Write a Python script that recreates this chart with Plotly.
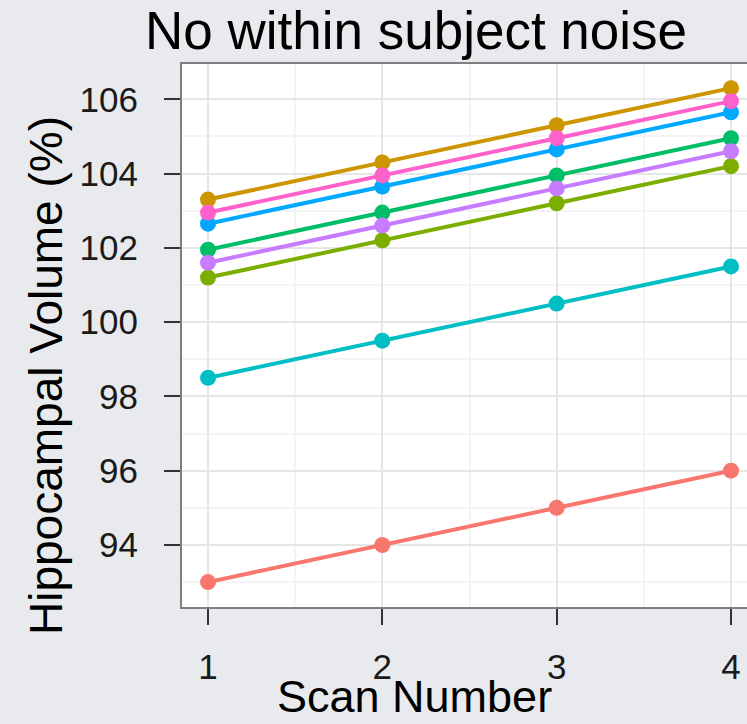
import plotly.graph_objects as go

scans = [1, 2, 3, 4]
series_names = ["s1", "s2", "s3", "s4", "s5", "s6", "s7", "s8"]
s1 = [93.0, 94.0, 95.0, 96.0]
s2 = [103.3, 104.3, 105.3, 106.3]
s3 = [101.2, 102.2, 103.2, 104.2]
s4 = [101.95, 102.95, 103.95, 104.95]
s5 = [98.5, 99.5, 100.5, 101.5]
s6 = [102.65, 103.65, 104.65, 105.65]
s7 = [101.6, 102.6, 103.6, 104.6]
s8 = [102.95, 103.95, 104.95, 105.95]
series_values = [s1, s2, s3, s4, s5, s6, s7, s8]
colors = ["#F8766D", "#CD9600", "#7CAE00", "#00BE67", "#00BFC4", "#00A9FF", "#C77CFF", "#FF61CC"]
y_ticks = [94, 96, 98, 100, 102, 104, 106]
x_ticks = [1, 2, 3, 4]

FONT = "Liberation Sans"
W, H = 747, 724
L, R, T, B = 182, 0, 64, 117
pw = W - L - R
ph = H - T - B

fig = go.Figure()
for name, vals, col in zip(series_names, series_values, colors):
    fig.add_trace(go.Scatter(
        x=scans, y=vals, mode="lines+markers", name=name,
        line=dict(color=col, width=4),
        marker=dict(color=col, size=16),
        showlegend=False, cliponaxis=False,
    ))

unit = (731 - 208) / 3.0
x0 = 1 - (208 - L) / unit
x1 = x0 + pw / unit

def px_x(px):
    return (px - L) / pw

def px_y(py):
    return (H - B - py) / ph

fig.update_layout(
    width=W, height=H,
    margin=dict(l=L, r=R, t=T, b=B, pad=0),
    paper_bgcolor="#E8EAED",
    plot_bgcolor="white",
    font=dict(family=FONT, color="#1a1a1a"),
    xaxis=dict(
        range=[x0, x1], tickvals=x_ticks, ticktext=[str(v) for v in x_ticks],
        showgrid=True, gridcolor="#E6E6E6", gridwidth=2,
        minor=dict(dtick=0.5, tick0=0.5, showgrid=True, gridcolor="#F4F4F4", gridwidth=2, ticks=""),
        showline=True, linecolor="#7F7F7F", linewidth=2, mirror=True,
        ticks="outside", ticklen=16, tickwidth=1.5, tickcolor="#333333",
        tickfont=dict(size=35, family=FONT, color="#1a1a1a"),
        ticklabelstandoff=12, zeroline=False,
    ),
    yaxis=dict(
        range=[92.33, 106.95], tickvals=y_ticks, ticktext=[str(v) for v in y_ticks],
        showgrid=True, gridcolor="#E6E6E6", gridwidth=2,
        minor=dict(dtick=1, tick0=93, showgrid=True, gridcolor="#F4F4F4", gridwidth=2, ticks=""),
        showline=True, linecolor="#7F7F7F", linewidth=2, mirror=False,
        ticks="outside", ticklen=16, tickwidth=1.5, tickcolor="#333333",
        tickfont=dict(size=35, family=FONT, color="#1a1a1a"),
        ticklabelstandoff=19, zeroline=False,
    ),
    annotations=[
        dict(text="No within subject noise", xref="paper", yref="paper",
             x=px_x(416), y=px_y(30.6), xanchor="center", yanchor="middle",
             showarrow=False, font=dict(size=53, family=FONT, color="black")),
        dict(text="Scan Number", xref="paper", yref="paper",
             x=px_x(414.5), y=px_y(696.4), xanchor="center", yanchor="middle",
             showarrow=False, font=dict(size=45, family=FONT, color="black")),
        dict(text="Hippocampal Volume (%)", xref="paper", yref="paper",
             x=px_x(46), y=px_y(376), xanchor="center", yanchor="middle",
             textangle=-90, showarrow=False, font=dict(size=46, family=FONT, color="black")),
    ],
)

fig.write_html("out.html")
